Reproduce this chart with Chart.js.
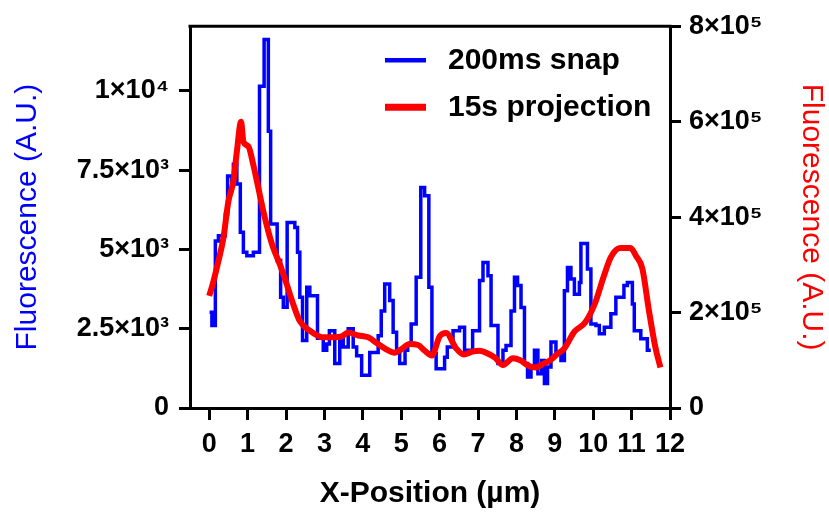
<!DOCTYPE html>
<html>
<head>
<meta charset="utf-8">
<script src="https://cdn.jsdelivr.net/npm/chart.js@4.4.1/dist/chart.umd.min.js"></script>
<style>
  html, body { margin: 0; padding: 0; background: #fff; }
  #wrap { width: 829px; height: 512px; }
</style>
</head>
<body>
<div id="wrap"><canvas id="profile" width="829" height="512"></canvas></div>
<script>
// 200ms snap (left axis), step profile: position where each level starts
let snapPos = [0.01, 0.07, 0.16, 0.24, 0.42, 0.48, 0.59, 0.63, 0.72, 0.81, 0.89, 0.98, 1.15, 1.31, 1.43, 1.54, 1.60, 1.77, 1.86, 1.93,
  2.03, 2.23, 2.30, 2.36, 2.43, 2.54, 2.62, 2.82, 2.97, 3.06, 3.13, 3.27, 3.40, 3.49, 3.62, 3.75, 3.84, 3.97, 4.18, 4.40,
  4.48, 4.57, 4.70, 4.79, 4.88, 4.96, 5.10, 5.17, 5.26, 5.39, 5.51, 5.61, 5.72, 5.80, 5.91, 6.13, 6.20, 6.35, 6.52, 6.65,
  6.86, 7.04, 7.13, 7.26, 7.34, 7.52, 7.65, 7.73, 7.86, 7.95, 8.03, 8.12, 8.21, 8.29, 8.38, 8.47, 8.56, 8.66, 8.73, 8.81,
  8.90, 9.03, 9.16, 9.25, 9.33, 9.42, 9.51, 9.64, 9.68, 9.85, 9.94, 10.07, 10.16, 10.29, 10.46, 10.59, 10.80, 10.89, 11.02, 11.07,
  11.24, 11.41, 11.50];
let snapVal = [3020, 2600, 5270, 5430, 6110, 7320, 7060, 7690, 7060, 5540, 4910, 4800, 4910, 10150, 11620, 8730, 5800, 4650, 3490, 3180,
  5850, 5690, 4910, 3490, 2130, 3810, 3540, 2200, 1820, 2020, 2440, 1400, 2230, 1920, 2500, 1920, 1650, 1030, 1750, 2280,
  3060, 3910, 3390, 2390, 1820, 1400, 1820, 2020, 2650, 4120, 6950, 6690, 3810, 1710, 1240, 1600, 1920, 2440, 2550, 1820,
  2440, 4020, 4590, 4170, 2600, 1400, 1820, 1970, 3060, 4120, 3860, 3170, 1400, 980, 1290, 1820, 1080, 1500, 770, 1290,
  2080, 1760, 1500, 3700, 4430, 4070, 3590, 3960, 5190, 4380, 2650, 2600, 2340, 2550, 2970, 3490, 3860, 3960, 3280, 2440,
  2180, 1820, 1820];

// 15s projection (right axis)
let projPos = [0.00, 0.09, 0.24, 0.37, 0.50, 0.63, 0.72, 0.83, 0.89, 1.02, 1.15, 1.28, 1.41, 1.54, 1.67, 1.84, 2.02, 2.19, 2.36, 2.62,
  2.84, 3.01, 3.27, 3.45, 3.62, 3.88, 4.14, 4.40, 4.61, 4.83, 5.00, 5.22, 5.44, 5.61, 5.80, 6.00, 6.17, 6.43, 6.63, 6.85,
  7.04, 7.28, 7.45, 7.65, 7.91, 8.10, 8.30, 8.49, 8.73, 8.86, 9.05, 9.25, 9.51, 9.79, 10.05, 10.28, 10.46, 10.70, 10.97, 11.12,
  11.28, 11.45, 11.62, 11.75];
let projVal = [235000, 259000, 308000, 356000, 433000, 475000, 537000, 600000, 558000, 548000, 509000, 461000, 412000, 370000, 335000, 301000, 259000, 217000, 182000, 162000,
  151000, 148000, 148000, 150000, 158000, 152000, 148000, 134000, 123000, 116000, 123000, 134000, 132000, 120000, 110000, 150000, 157000, 125000, 112000, 118000,
  120000, 113000, 105000, 90000, 104000, 100000, 89000, 85000, 94000, 99000, 112000, 125000, 160000, 179000, 220000, 277000, 316000, 335000, 335000, 318000,
  292000, 205000, 127000, 85000];

let xTicks = [0, 1, 2, 3, 4, 5, 6, 7, 8, 9, 10, 11, 12];
let leftTicks = [0, 2500, 5000, 7500, 10000];
let leftLabels = ['0', '2.5×10³', '5×10³', '7.5×10³', '1×10⁴'];
let rightTicks = [0, 200000, 400000, 600000, 800000];
let rightLabels = ['0', '2×10⁵', '4×10⁵', '6×10⁵', '8×10⁵'];

Chart.defaults.font.family = '"Liberation Sans", Arial, sans-serif';
Chart.defaults.color = '#000';

function pairs(xs, ys) {
  return xs.map((x, i) => ({ x: x, y: ys[i] }));
}

// box top line + legend inside the plot
const frameKey = {
  id: 'frameKey',
  afterDraw(chart) {
    const ctx = chart.ctx;
    const a = chart.chartArea;
    ctx.save();
    ctx.strokeStyle = '#000';
    ctx.lineWidth = 3;
    ctx.beginPath();
    ctx.moveTo(a.left - 1.5, a.top);
    ctx.lineTo(a.right + 1.5, a.top);
    ctx.stroke();

    let sets = [chart.data.datasets[1], chart.data.datasets[0]];
    ctx.font = 'bold 30px "Liberation Sans", Arial, sans-serif';
    ctx.textBaseline = 'middle';
    ctx.fillStyle = '#000';
    sets.forEach((ds, i) => {
      let y = a.top + 34 + i * 47;
      ctx.strokeStyle = ds.borderColor;
      ctx.lineWidth = ds.borderWidth + 1;
      ctx.beginPath();
      ctx.moveTo(a.left + 195, y);
      ctx.lineTo(a.left + 236, y);
      ctx.stroke();
      ctx.fillText(ds.label, a.left + 258, y + 1);
    });
    ctx.restore();
  }
};

let ctx = document.getElementById('profile').getContext('2d');
let profileChart = new Chart(ctx, {
  type: 'line',
  data: {
    datasets: [{
      label: '15s projection',
      data: pairs(projPos, projVal),
      yAxisID: 'y2',
      borderColor: '#ff0000',
      borderWidth: 6,
      pointRadius: 0,
      cubicInterpolationMode: 'monotone',
      order: 0
    }, {
      label: '200ms snap',
      data: pairs(snapPos, snapVal),
      yAxisID: 'y',
      borderColor: '#0000ff',
      borderWidth: 3.5,
      pointRadius: 0,
      stepped: 'before',
      order: 1
    }]
  },
  options: {
    responsive: false,
    animation: false,
    layout: { padding: { top: 25 } },
    plugins: { legend: { display: false }, tooltip: { enabled: false } },
    scales: {
      x: {
        type: 'linear',
        position: 'bottom',
        min: -0.5,
        max: 12,
        afterBuildTicks: s => { s.ticks = xTicks.map(v => ({ value: v })); },
        afterFit: s => { s.height = 104; },
        grid: { drawOnChartArea: false, tickLength: 12, lineWidth: 3, color: '#000' },
        border: { width: 3, color: '#000' },
        ticks: { autoSkip: false, maxRotation: 0, minRotation: 0, padding: 8,
          font: { size: 27, weight: 'bold' } },
        title: { display: true, text: 'X-Position (µm)', color: '#000',
          font: { size: 30, weight: 'bold' }, padding: { top: 0, bottom: 0 } }
      },
      y: {
        position: 'left',
        min: 0,
        max: 12040,
        afterBuildTicks: s => { s.ticks = leftTicks.map(v => ({ value: v })); },
        afterFit: s => { s.width = 190; },
        grid: { drawOnChartArea: false, tickLength: 11, lineWidth: 3, color: '#000' },
        border: { width: 3, color: '#000' },
        ticks: { padding: 10, font: { size: 27, weight: 'bold' },
          callback: (v, i) => leftLabels[i] },
        title: { display: true, text: 'Fluorescence (A.U.)', color: '#0000ff',
          font: { size: 30 }, padding: { top: 10, bottom: 0 } }
      },
      y2: {
        position: 'right',
        min: 0,
        max: 800000,
        afterBuildTicks: s => { s.ticks = rightTicks.map(v => ({ value: v })); },
        afterFit: s => { s.width = 159; },
        grid: { drawOnChartArea: false, tickLength: 11, lineWidth: 3, color: '#000' },
        border: { width: 3, color: '#000' },
        ticks: { padding: 8, font: { size: 27, weight: 'bold' },
          callback: (v, i) => rightLabels[i] },
        title: { display: true, text: 'Fluorescence (A.U.)', color: '#ff0000',
          font: { size: 30 }, padding: { top: 0, bottom: 0 } }
      }
    }
  },
  plugins: [frameKey]
});
</script>
</body>
</html>
